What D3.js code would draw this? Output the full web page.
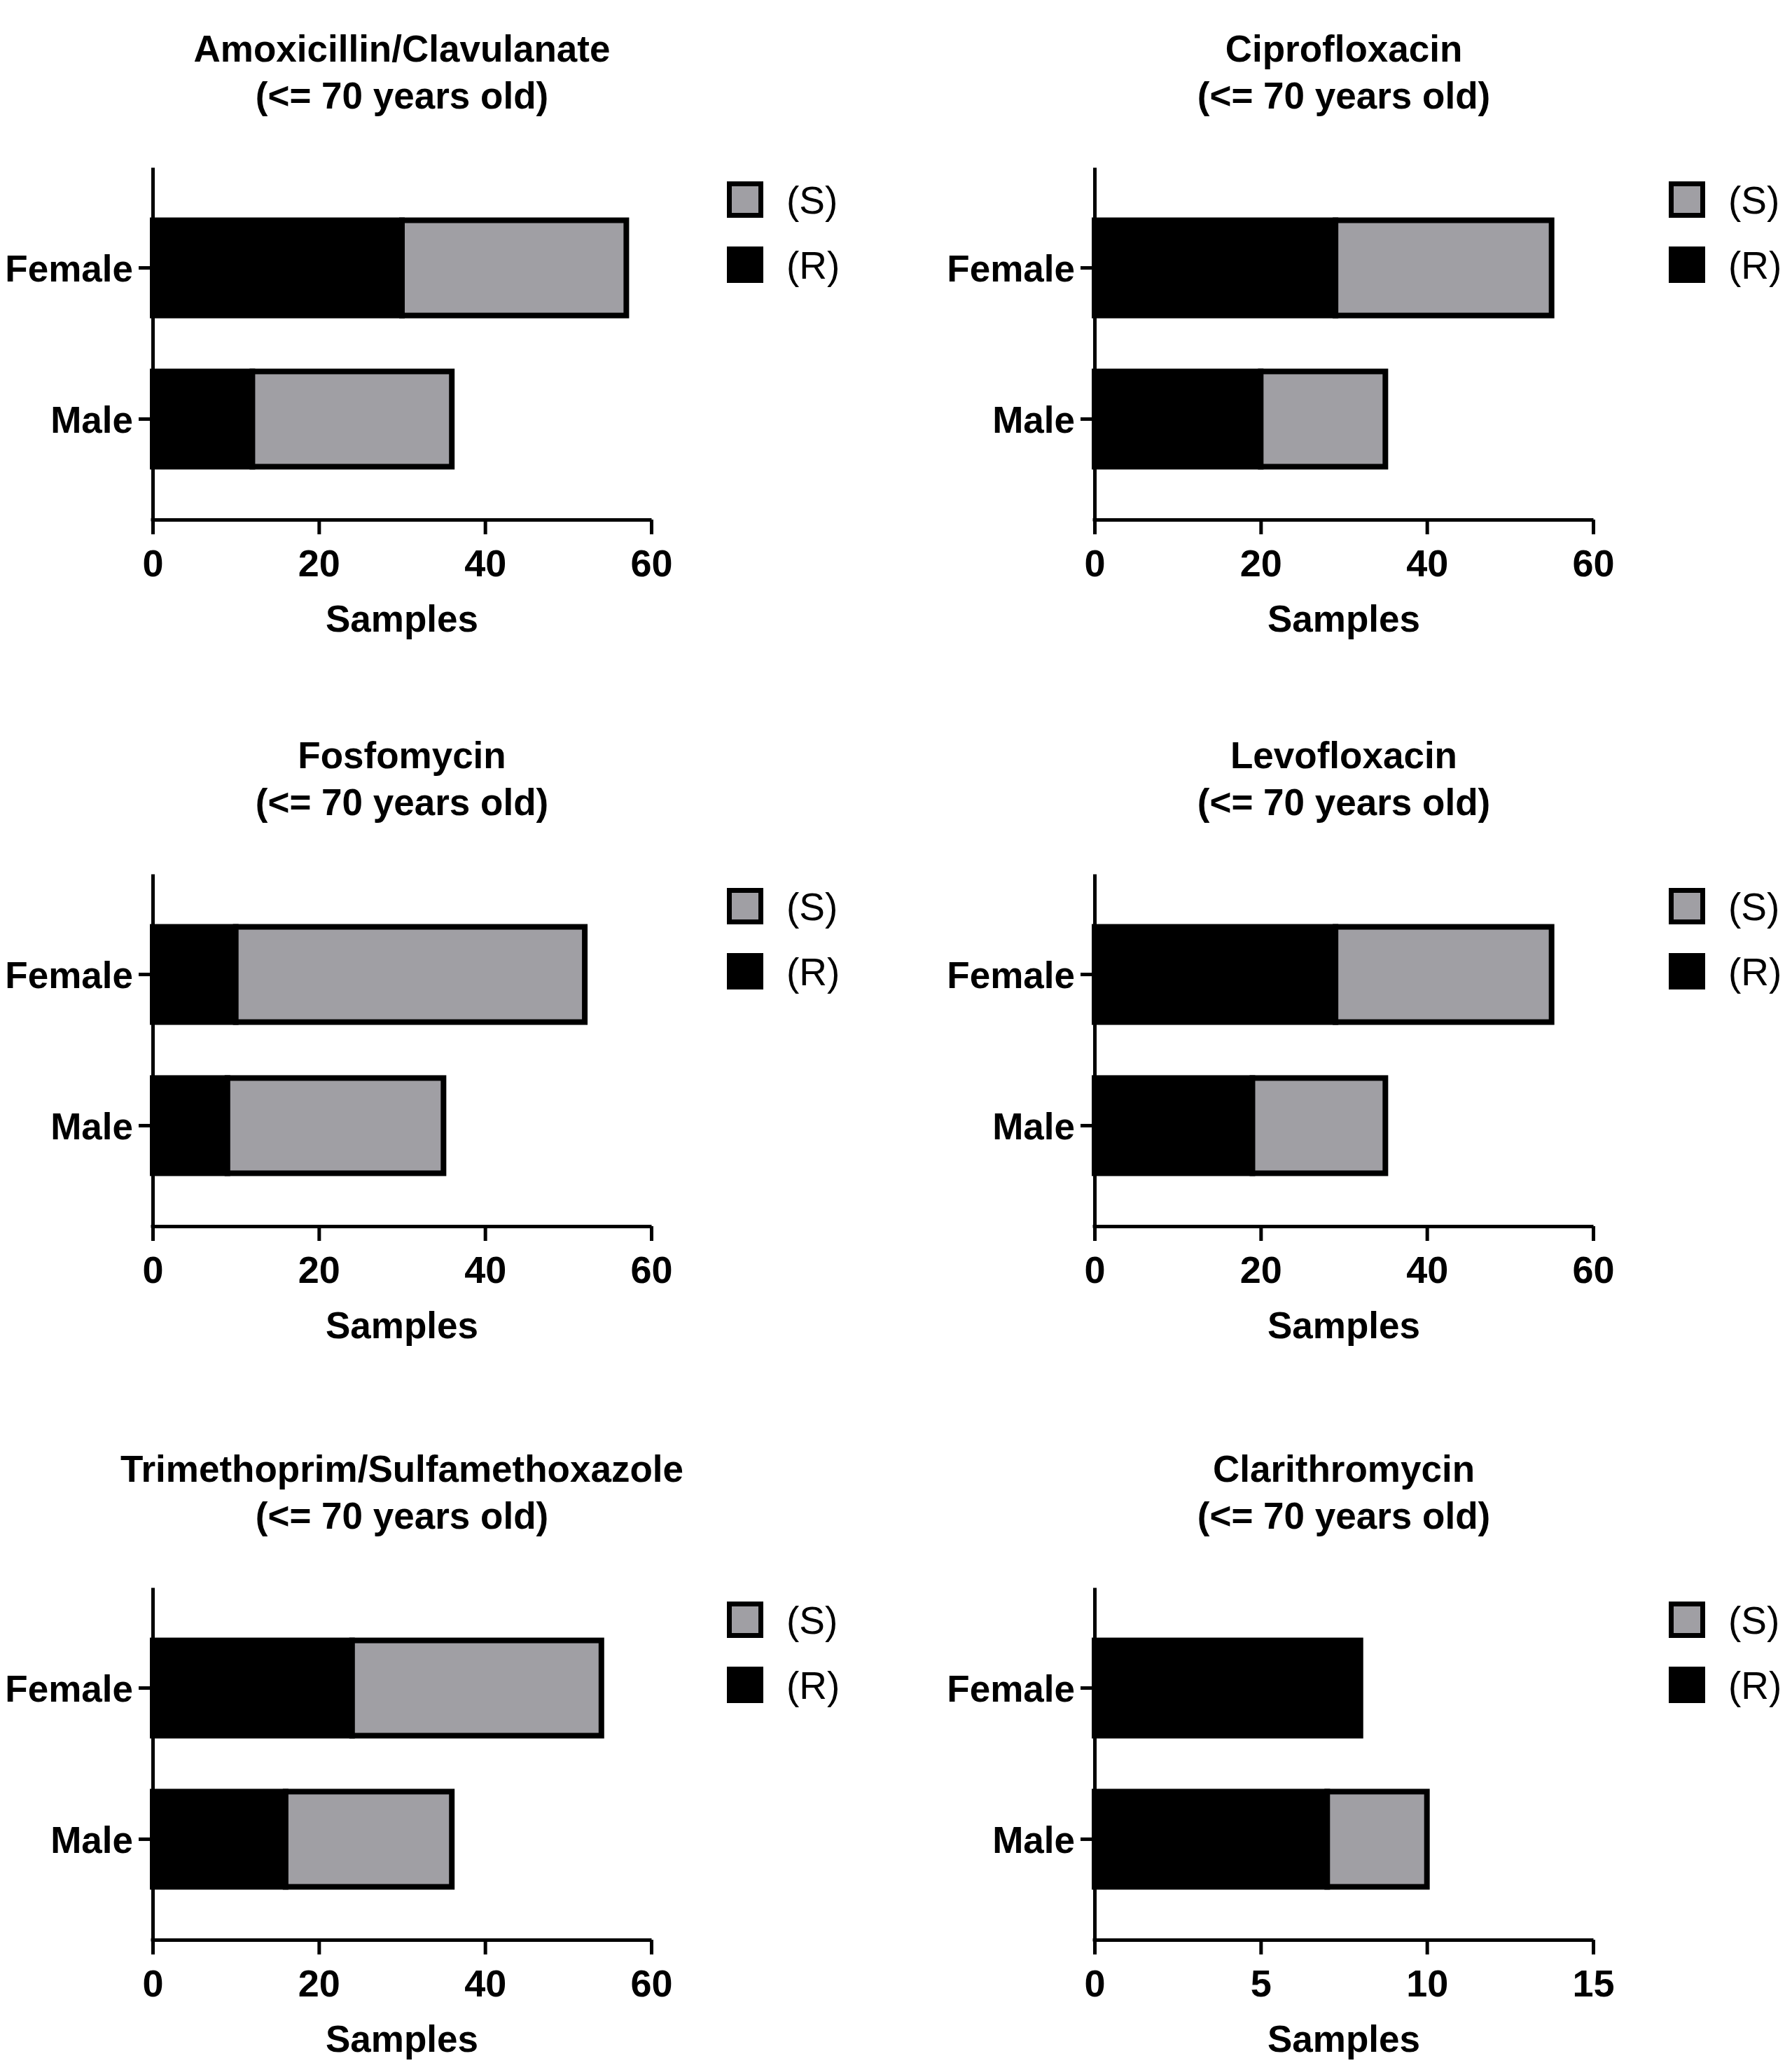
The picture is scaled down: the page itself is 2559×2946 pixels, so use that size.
<!DOCTYPE html>
<html>
<head>
<meta charset="utf-8">
<script src="https://cdn.jsdelivr.net/npm/d3@7"></script>
<style>
  html, body { margin: 0; padding: 0; background: #fff; }
  svg { display: block; }
  text { font-family: "Liberation Sans", Arial, Helvetica, sans-serif; fill: #000; }
</style>
</head>
<body>
<script>
// ---------- data ----------
const drugs = ["Amoxicillin/Clavulanate", "Ciprofloxacin", "Fosfomycin", "Levofloxacin", "Trimethoprim/Sulfamethoxazole", "Clarithromycin"];
const subtitle = "(<= 70 years old)";
const sexes = ["Female", "Male"];
// resistant (R) counts: [Female, Male]
const resistant = [[30, 12], [29, 20], [10, 9], [29, 19], [24, 16], [8, 7]];
// susceptible (S) counts: [Female, Male]
const susceptible = [[27, 24], [26, 15], [42, 26], [26, 16], [30, 20], [0, 3]];
const xMax = [60, 60, 60, 60, 60, 15];
const xTicks = [[0, 20, 40, 60], [0, 20, 40, 60], [0, 20, 40, 60], [0, 20, 40, 60], [0, 20, 40, 60], [0, 5, 10, 15]];
const xTitle = "Samples";
const legendLabels = ["(S)", "(R)"];

// ---------- layout ----------
const W = 2559, H = 2946;
const grey = "#a09fa4";
const colLeft = [218, 1563];
const plotW = 712;
const rowOff = [0, 1009, 2028];
const yTop0 = 239, xAxisY0 = 742;
const fs = "53px";

const svg = d3.select("body").append("svg").attr("width", W).attr("height", H);

drugs.forEach((drug, i) => {
  const col = i % 2, row = Math.floor(i / 2);
  const left = colLeft[col], right = left + plotW;
  const yTop = yTop0 + rowOff[row], yBot = xAxisY0 + rowOff[row];
  const g = svg.append("g");

  const x = d3.scaleLinear().domain([0, xMax[i]]).range([left, right]);
  const y = d3.scaleBand().domain(sexes).range([yTop, yBot]).paddingInner(0.37).paddingOuter(0.35);

  // bars
  sexes.forEach((s, j) => {
    const r = resistant[i][j], sv = susceptible[i][j];
    const segs = [
      {x0: 0, x1: r, fill: "#000"},
      {x0: r, x1: r + sv, fill: grey}
    ].filter(d => d.x1 > d.x0);
    g.selectAll(null).data(segs).enter().append("rect")
      .attr("x", d => x(d.x0))
      .attr("width", d => x(d.x1) - x(d.x0))
      .attr("y", y(s))
      .attr("height", y.bandwidth())
      .attr("fill", d => d.fill)
      .attr("stroke", "#000")
      .attr("stroke-width", 8);
  });

  // x axis
  const xa = g.append("g").attr("transform", `translate(0,${yBot})`)
    .call(d3.axisBottom(x).tickValues(xTicks[i]).tickSize(21).tickSizeOuter(0));
  xa.select(".domain").attr("stroke", "#000").attr("stroke-width", 5);
  xa.selectAll(".tick line").attr("stroke", "#000").attr("stroke-width", 5);
  xa.selectAll(".tick text").attr("y", 81).attr("dy", 0)
    .style("font-family", "Liberation Sans, Arial, sans-serif")
    .style("font-weight", "bold").style("font-size", "54px").attr("fill", "#000");

  // y axis
  const ya = g.append("g").attr("transform", `translate(${left},0)`)
    .call(d3.axisLeft(y).tickSize(20).tickSizeOuter(0).tickPadding(8));
  ya.select(".domain").attr("stroke", "#000").attr("stroke-width", 5);
  ya.selectAll(".tick line").attr("stroke", "#000").attr("stroke-width", 5);
  ya.selectAll(".tick text").attr("dy", "0.37em")
    .style("font-family", "Liberation Sans, Arial, sans-serif")
    .style("font-weight", "bold").style("font-size", fs).attr("fill", "#000");
  g.append("line").attr("x1", left).attr("x2", left).attr("y1", yBot - 2).attr("y2", yBot + 2.5)
    .attr("stroke", "#000").attr("stroke-width", 5);

  // titles
  const cx = (left + right) / 2;
  g.append("text").attr("x", cx).attr("y", yTop - 151).attr("text-anchor", "middle")
    .style("font-weight", "bold").style("font-size", fs).text(drug);
  g.append("text").attr("x", cx).attr("y", yTop - 84).attr("text-anchor", "middle")
    .style("font-weight", "bold").style("font-size", fs).text(subtitle);

  // x axis title
  g.append("text").attr("x", cx).attr("y", yBot + 160).attr("text-anchor", "middle")
    .style("font-weight", "bold").style("font-size", fs).text(xTitle);

  // legend
  const lx = left + 820;
  const legendFills = [grey, "#000"];
  const legendY = [yTop + 20, yTop + 113];
  legendLabels.forEach((lab, k) => {
    g.append("rect").attr("x", lx + 3.5).attr("y", legendY[k] + 3.5)
      .attr("width", 45).attr("height", 45)
      .attr("fill", legendFills[k]).attr("stroke", "#000").attr("stroke-width", 7);
    g.append("text").attr("x", left + 905).attr("y", legendY[k] + 46)
      .style("font-weight", "normal").style("font-size", "55px").text(lab);
  });
});
</script>
</body>
</html>
